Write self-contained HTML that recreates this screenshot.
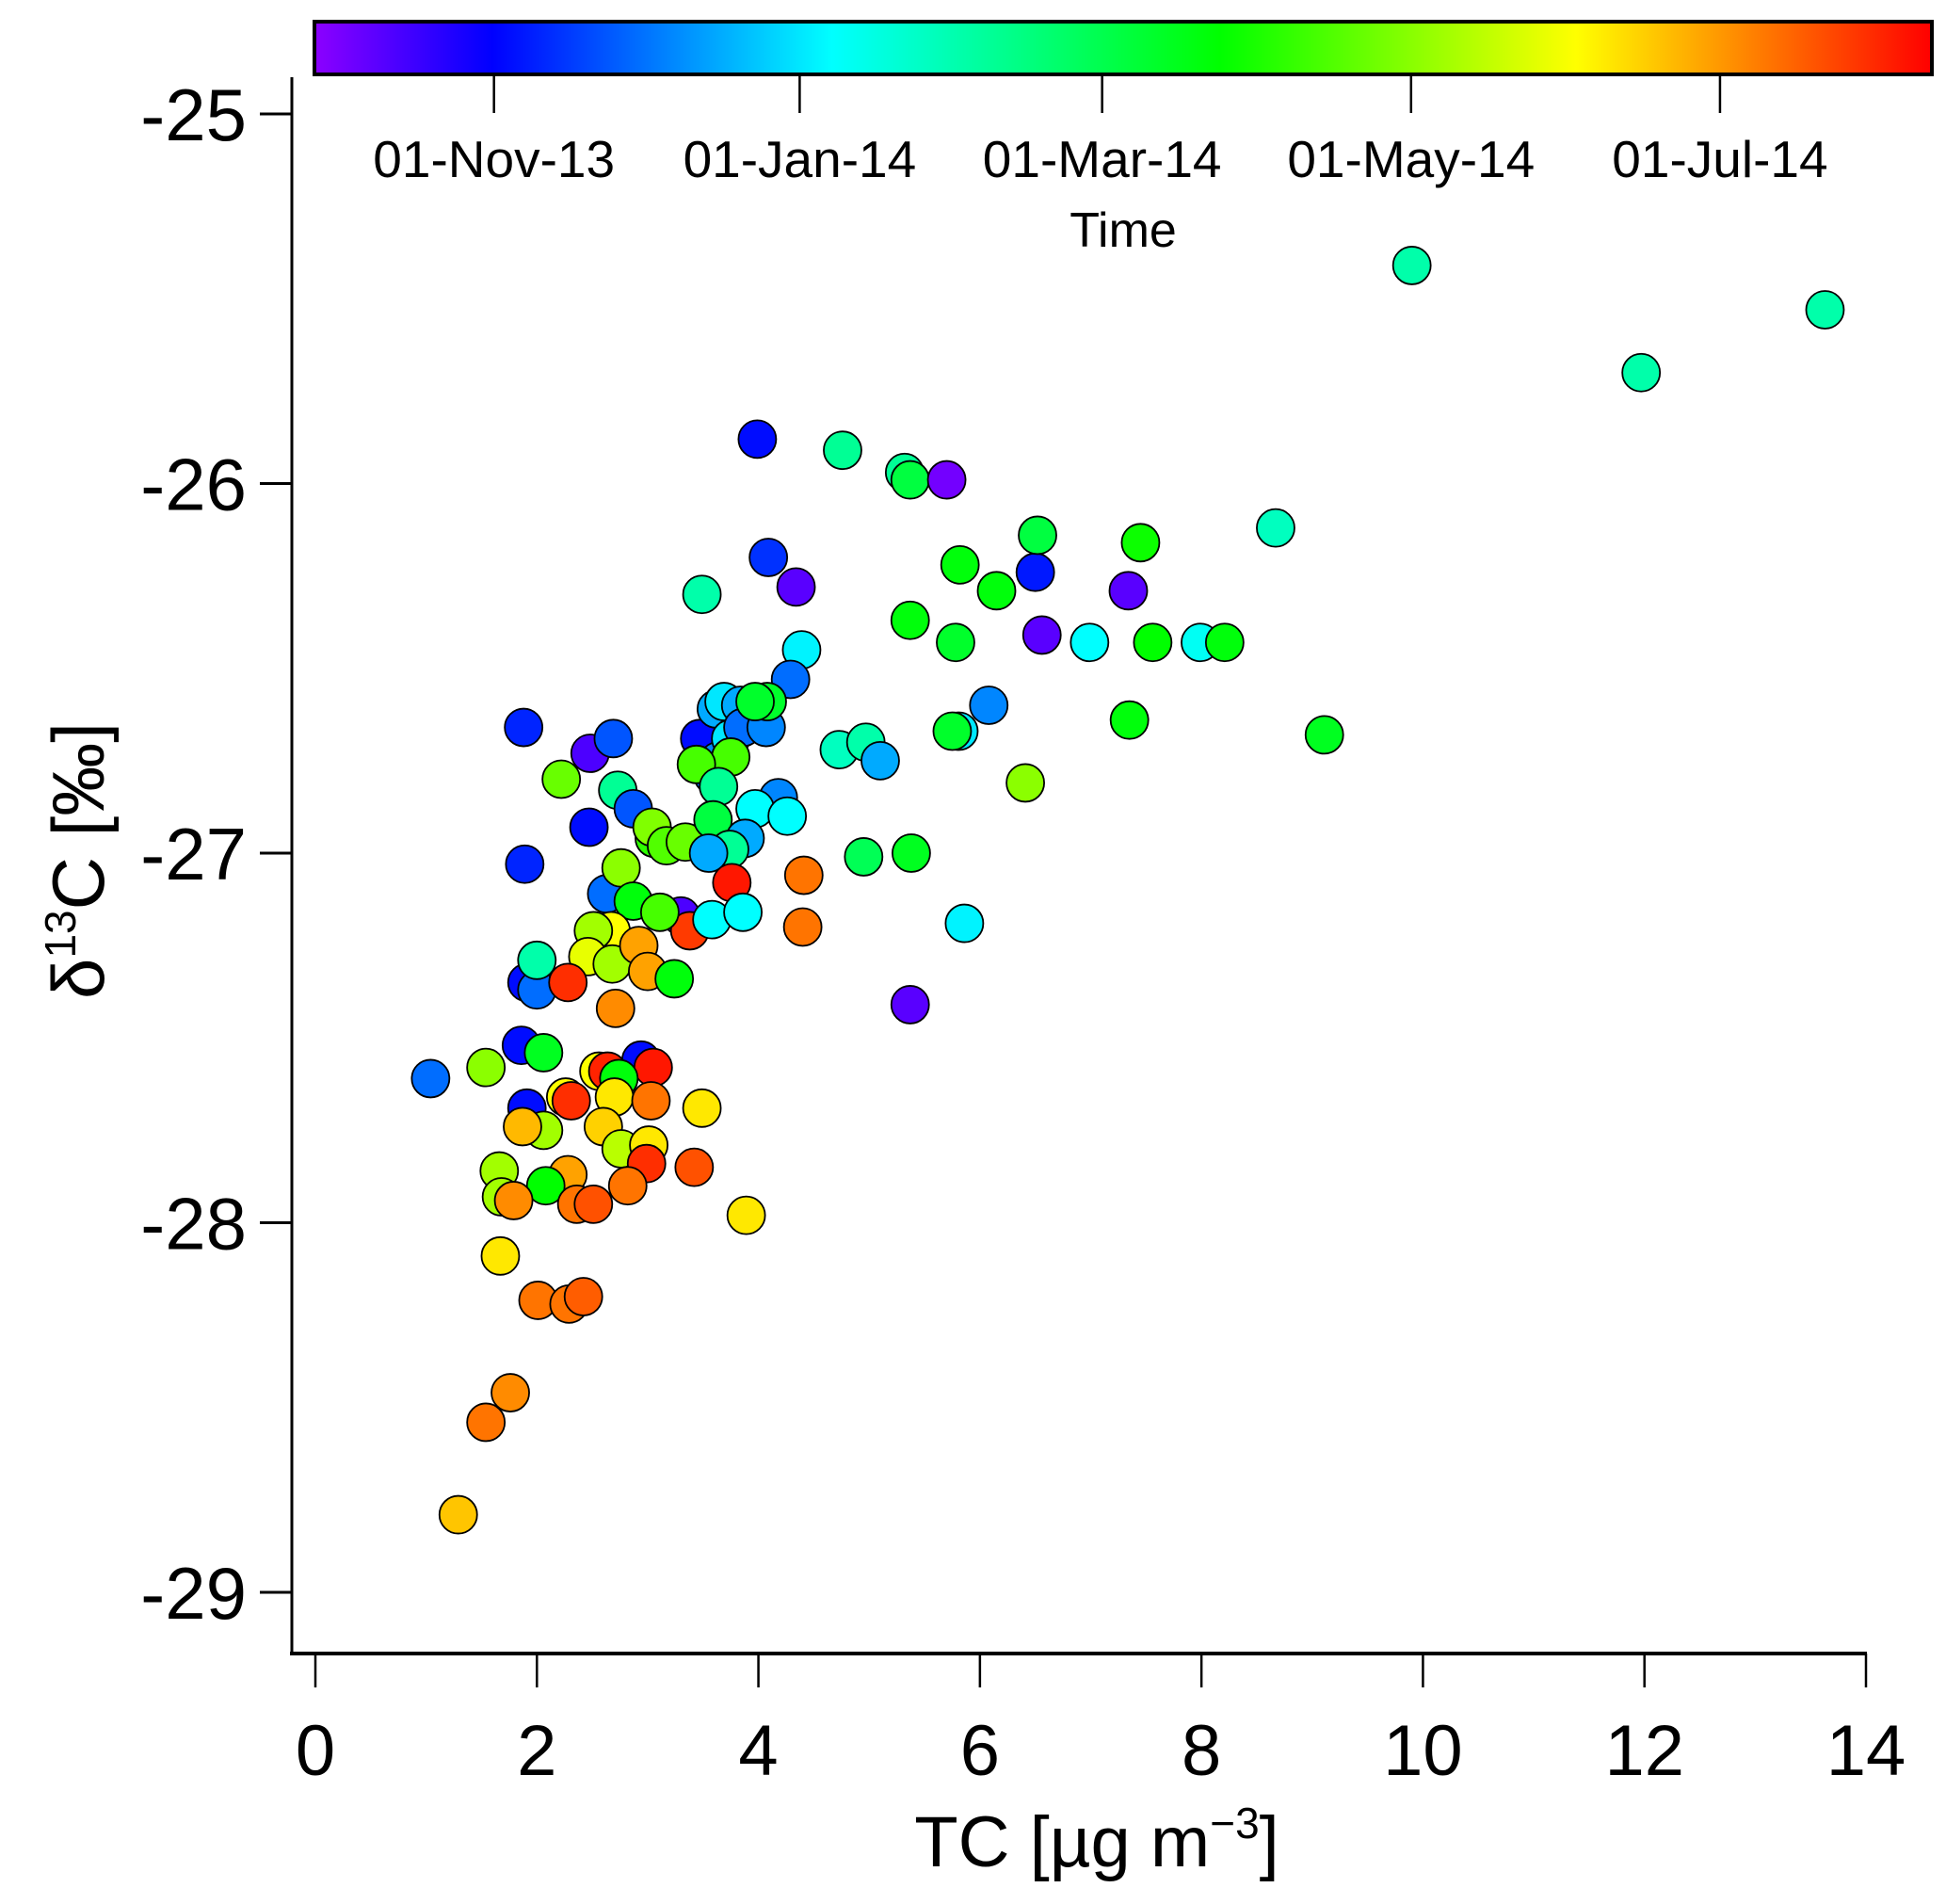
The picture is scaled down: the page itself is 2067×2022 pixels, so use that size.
<!DOCTYPE html>
<html><head><meta charset="utf-8"><style>
html,body{margin:0;padding:0;background:#fff}
svg{display:block;font-family:"Liberation Sans",Arial,sans-serif}
</style></head><body>
<svg id="chart" width="2067" height="2022" viewBox="0 0 2067 2022" xmlns="http://www.w3.org/2000/svg">
<defs>
<linearGradient id="cbgrad" x1="0" x2="1" y1="0" y2="0">
<stop offset="0" stop-color="rgb(140,0,255)"/>
<stop offset="0.11" stop-color="rgb(0,0,255)"/>
<stop offset="0.32" stop-color="rgb(0,255,255)"/>
<stop offset="0.56" stop-color="rgb(0,255,0)"/>
<stop offset="0.78" stop-color="rgb(255,255,0)"/>
<stop offset="1" stop-color="rgb(255,0,0)"/>
</linearGradient>
</defs>
<g id="axes"></g>
<g id="points"></g>
<g id="colorbar">
<rect x="334" y="23" width="1718" height="56" fill="url(#cbgrad)" stroke="#000" stroke-width="4"/>
</g>
</svg>
<script>
const xTicks=[0,2,4,6,8,10,12,14];
const yTicks=[-25,-26,-27,-28,-29];
const cbTickLabels=["01-Nov-13","01-Jan-14","01-Mar-14","01-May-14","01-Jul-14"];
const cbTickFrac=[0.111,0.3,0.487,0.678,0.869];
// TC values
const tc=[9.9,13.63,11.97,3.99,4.76,5.32,5.37,5.70,4.09,4.34,3.49,6.50,6.52,5.82,6.15,7.45,7.34,5.37,5.78,6.56,6.99,7.56,7.99,8.21,8.67,4.39,4.29,6.08,5.81,5.75,7.35,9.11,6.41,4.73,4.97,5.10,4.95,5.38,5.86,5.37,4.41,4.40,1.04,1.88,1.89,2.48,2.69,2.47,2.22,2.73,2.87,2.63,2.76,3.06,3.04,3.17,3.34,3.30,3.38,2.87,3.11,2.67,2.51,2.46,2.68,2.92,3.00,3.24,2.71,1.91,2.00,2.00,2.28,1.86,2.06,1.54,2.94,3.05,2.56,2.64,2.74,1.91,2.26,2.31,2.70,3.03,3.49,2.06,1.87,2.60,2.76,3.01,2.99,3.42,1.66,2.28,2.08,2.82,1.68,1.79,2.36,2.51,3.89,1.67,2.01,2.29,2.42,1.76,1.54,1.29,3.47,3.59,3.64,3.62,3.69,3.84,3.75,3.86,4.07,4.08,3.97,3.75,3.44,3.64,3.59,4.18,3.97,4.26,3.88,3.74,3.55,3.76,3.58,3.86];
// delta13C values
const d13c=[-25.41,-25.53,-25.70,-25.88,-25.91,-25.97,-25.99,-25.99,-26.20,-26.28,-26.30,-26.24,-26.14,-26.22,-26.29,-26.16,-26.29,-26.37,-26.43,-26.41,-26.43,-26.43,-26.43,-26.43,-26.12,-26.45,-26.53,-26.60,-26.67,-26.67,-26.64,-26.68,-26.81,-26.72,-26.70,-26.75,-27.01,-27.00,-27.19,-27.41,-27.06,-27.20,-27.61,-26.66,-27.03,-26.73,-26.69,-26.93,-26.80,-26.83,-26.88,-27.11,-27.04,-26.96,-26.93,-26.98,-26.97,-27.17,-27.21,-27.13,-27.16,-27.21,-27.21,-27.28,-27.30,-27.25,-27.32,-27.34,-27.42,-27.35,-27.37,-27.29,-27.35,-27.52,-27.54,-27.58,-27.56,-27.58,-27.59,-27.59,-27.61,-27.69,-27.66,-27.67,-27.66,-27.67,-27.69,-27.75,-27.74,-27.74,-27.80,-27.79,-27.84,-27.85,-27.86,-27.87,-27.90,-27.90,-27.93,-27.94,-27.95,-27.95,-27.98,-28.09,-28.21,-28.22,-28.20,-28.46,-28.54,-28.79,-26.69,-26.79,-26.75,-26.61,-26.59,-26.60,-26.69,-26.66,-26.66,-26.59,-26.59,-26.74,-26.76,-26.82,-26.91,-26.85,-26.88,-26.90,-26.96,-26.99,-27.00,-27.08,-27.18,-27.16];
// time position (fraction of colorbar range)
const timeFrac=[0.4,0.4,0.4,0.12,0.42,0.42,0.5,0.02,0.15,0.04,0.4,0.13,0.5,0.55,0.55,0.57,0.04,0.55,0.52,0.04,0.32,0.56,0.33,0.55,0.38,0.31,0.2,0.22,0.3,0.52,0.55,0.53,0.68,0.38,0.4,0.25,0.48,0.53,0.31,0.04,0.9,0.9,0.2,0.14,0.14,0.05,0.18,0.12,0.65,0.42,0.18,0.2,0.68,0.6,0.67,0.63,0.65,0.05,0.95,0.55,0.62,0.78,0.7,0.76,0.7,0.86,0.86,0.55,0.88,0.12,0.2,0.4,0.96,0.12,0.53,0.68,0.12,0.98,0.78,0.97,0.55,0.12,0.78,0.96,0.8,0.9,0.8,0.7,0.84,0.82,0.72,0.8,0.96,0.93,0.7,0.86,0.56,0.9,0.7,0.88,0.9,0.93,0.8,0.8,0.9,0.9,0.92,0.88,0.9,0.83,0.12,0.2,0.22,0.25,0.3,0.25,0.3,0.2,0.22,0.52,0.52,0.62,0.62,0.42,0.5,0.22,0.32,0.32,0.25,0.42,0.25,0.98,0.32,0.32];

const NS="http://www.w3.org/2000/svg";
const X0=335,X1=1982,Y0=121,Y1=1691;
function xs(v){return X0+(v-0)*(X1-X0)/14;}
function ys(v){return Y0+(-25-v)*(Y1-Y0)/4;}
const CB0=334,CB1=2052;
function cbx(f){return CB0+f*(CB1-CB0);}
const stops=[[0,[140,0,255]],[0.11,[0,0,255]],[0.32,[0,255,255]],[0.56,[0,255,0]],[0.78,[255,255,0]],[1,[255,0,0]]];
function cmap(t){
  for(let i=1;i<stops.length;i++){
    if(t<=stops[i][0]){const a=stops[i-1],b=stops[i];const f=(t-a[0])/(b[0]-a[0]);
      const c=a[1].map((v,k)=>Math.round(v+(b[1][k]-v)*f));return `rgb(${c[0]},${c[1]},${c[2]})`;}
  }
  return 'rgb(255,0,0)';
}
function mk(tag,attrs,parent){const e=document.createElementNS(NS,tag);for(const k in attrs)e.setAttribute(k,attrs[k]);parent.appendChild(e);return e;}
const axes=document.getElementById('axes');
let e;
e=mk('line',{x1:310,y1:82,x2:310,y2:1758,stroke:'#000','stroke-width':3},axes);


e=mk('line',{x1:308,y1:1756,x2:1983,y2:1756,stroke:'#000','stroke-width':4},axes);


xTicks.forEach(v=>{
  const t=mk('line',{x1:xs(v),y1:1756,x2:xs(v),y2:1792,stroke:'#000','stroke-width':2.5},axes);
  
  
  const l=mk('text',{x:xs(v),y:1885,'font-size':76,'text-anchor':'middle'},axes);
  l.textContent=v;
  
  
});
yTicks.forEach(v=>{
  const t=mk('line',{x1:276,y1:ys(v),x2:310,y2:ys(v),stroke:'#000','stroke-width':3},axes);
  
  
  const l=mk('text',{x:262,y:ys(v)+28,'font-size':78,'text-anchor':'end'},axes);
  l.textContent=v;
  
  
});
e=mk('text',{x:1165,y:1982,'font-size':76,'text-anchor':'middle'},axes);
e.innerHTML='TC [µg m<tspan font-size="46" dy="-30">−3</tspan><tspan dy="30">]</tspan>';


e=mk('text',{x:0,y:0,'font-size':78,'text-anchor':'middle',transform:'translate(110,914) rotate(-90)'},axes);
e.innerHTML='δ<tspan font-size="46" dy="-30">13</tspan><tspan dy="30">C [‰]</tspan>';



const cb=document.getElementById('colorbar');
cbTickFrac.forEach((f,i)=>{
  const t=mk('line',{x1:cbx(f),y1:79,x2:cbx(f),y2:120,stroke:'#000','stroke-width':2.5},cb);
  
  
  const l=mk('text',{x:cbx(f),y:188,'font-size':55,'text-anchor':'middle'},cb);
  l.textContent=cbTickLabels[i];
  
  
});
e=mk('text',{x:1193,y:262,'font-size':52,'text-anchor':'middle'},cb);
e.textContent='Time';



const pts=document.getElementById('points');
for(let i=0;i<tc.length;i++){
  const c=mk('circle',{cx:xs(tc[i]),cy:ys(d13c[i]),r:20,fill:cmap(timeFrac[i]),stroke:'#000','stroke-width':1.8},pts);
  
  
}
</script>
</body></html>
